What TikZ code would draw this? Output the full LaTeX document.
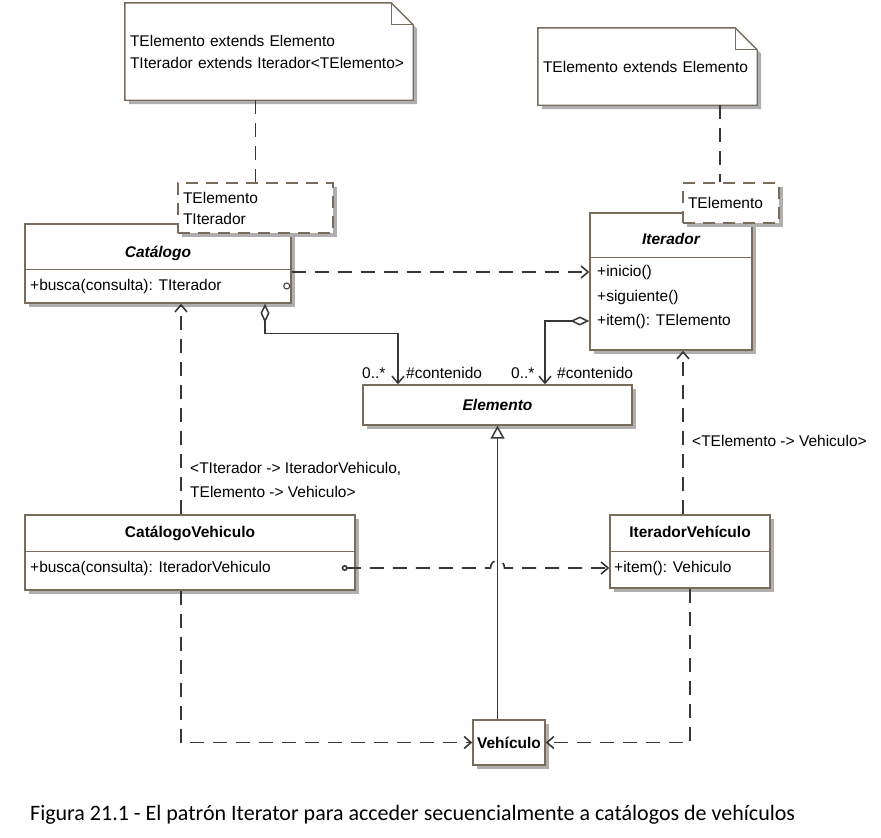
\documentclass[tikz,border=0pt]{standalone}
\usepackage{fontspec}
\setmainfont{Liberation Sans}
\newfontfamily\capfont{Carlito}
\usetikzlibrary{arrows.meta,shadows,backgrounds,calc}
\definecolor{boxline}{RGB}{120,108,92}
\definecolor{shadowgrey}{RGB}{175,175,175}
\definecolor{wire}{RGB}{55,55,55}
\newcommand{\umlsize}{\fontsize{15.5}{21}\selectfont}

\begin{document}
\begin{tikzpicture}[x=1pt,y=-1pt,
  cls/.style={draw=boxline,line width=1.4pt,fill=white,inner sep=0pt,
    drop shadow={shadow xshift=4pt,shadow yshift=-4pt,fill=shadowgrey,opacity=1}},
  tpl/.style={cls,dash pattern=on 12pt off 8pt,align=left,inner sep=5pt,font=\umlsize},
  note/.style={inner sep=5pt,align=left,font=\fontsize{15.5}{22}\selectfont},
  txt/.style={inner sep=0pt,text height=11pt,text depth=3pt,font=\umlsize},
  ttl/.style={txt,font=\umlsize\bfseries\itshape},
  ttlb/.style={txt,font=\umlsize\bfseries},
  sep/.style={draw=boxline,line width=1.4pt},
  dep/.style={draw=wire,line width=1.6pt,dash pattern=on 14pt off 9pt},
  deparrow/.style={dep,-{Straight Barb[length=7pt,width=12pt]}},
  aggr/.style={draw=wire,line width=1.5pt,{Diamond[open,length=19pt,width=9pt]}-{Straight Barb[length=7pt,width=12pt]}},
  gener/.style={draw=wire,line width=1.5pt,-{Triangle[open,length=13pt,width=14pt]}}]
\useasboundingbox (0,0) rectangle (881,838);

% notes
\node[note,minimum width=288pt,minimum height=97pt,text width=278pt] (note1) at (269,51.5)
  {TElemento extends Elemento\\TIterador extends Iterador<TElemento>};
\node[note,minimum width=219pt,minimum height=77pt,text width=209pt] (note2) at (647.5,66.5)
  {TElemento extends Elemento};

% Catalogo
\node[cls,minimum width=266pt,minimum height=79pt] (cat) at (158,263.5) {};
\draw[sep] ([yshift=-46pt]cat.north west) -- ([yshift=-46pt]cat.north east);
\node[ttl] (cattitle) at (158,253) {Catálogo};
\node[txt,anchor=west] (catop) at (30,286) {+busca(consulta): TIterador};
\node[tpl,minimum width=155pt,minimum height=50pt,text width=145pt] (cattpl) at (255.5,208) {TElemento\\TIterador};

% Iterador
\node[cls,minimum width=162pt,minimum height=137pt] (iter) at (671,281.5) {};
\draw[sep] ([yshift=-45pt]iter.north west) -- ([yshift=-45pt]iter.north east);
\node[ttl] (itertitle) at (671,240) {Iterador};
\node[txt,anchor=west] (iterop1) at (597,272) {+inicio()};
\node[txt,anchor=west] (iterop2) at (597,297) {+siguiente()};
\node[txt,anchor=west] (iterop3) at (597,321) {+item(): TElemento};
\node[tpl,minimum width=96pt,minimum height=40pt,text width=86pt] (itertpl) at (731,203) {TElemento};

% Elemento
\node[cls,minimum width=269pt,minimum height=40pt,font=\umlsize\bfseries\itshape] (elem) at (497.5,405) {Elemento};

% CatalogoVehiculo
\node[cls,minimum width=330pt,minimum height=75pt] (catv) at (190,552.5) {};
\draw[sep] ([yshift=-37pt]catv.north west) -- ([yshift=-37pt]catv.north east);
\node[ttlb] (catvtitle) at (190,533) {CatálogoVehiculo};
\node[txt,anchor=west] (catvop) at (30,568) {+busca(consulta): IteradorVehiculo};

% IteradorVehiculo
\node[cls,minimum width=160pt,minimum height=73pt] (iterv) at (690,551.5) {};
\draw[sep] ([yshift=-37pt]iterv.north west) -- ([yshift=-37pt]iterv.north east);
\node[ttlb] (itervtitle) at (690,533) {IteradorVehículo};
\node[txt,anchor=west] (itervop) at (614,568) {+item(): Vehiculo};

% Vehiculo
\node[cls,minimum width=72pt,minimum height=45pt,font=\umlsize\bfseries] (veh) at (509,742.5) {Vehículo};

% connectors
\draw[dep] (note1.south -| cattpl.north) -- (cattpl.north);
\draw[dep] ([xshift=72.5pt]note2.south) -- ([xshift=72.5pt]note2.south |- itertpl.north);
\draw[deparrow] (cat.east |- iterop1) -- (iter.west |- iterop1);
\draw[draw=wire,line width=1pt] ([xshift=-5pt]cat.east |- catop) circle (3pt);
\draw[aggr] ([xshift=107pt]cat.south) -- ++(0,30) -| ([xshift=-99.5pt]elem.north);
\draw[aggr] (iter.west |- iterop3) -| ([xshift=47.5pt]elem.north);
\node[txt,anchor=west] (mult1) at (362,374) {0..*};
\node[txt,anchor=west] (role1) at (406,374) {\#contenido};
\node[txt,anchor=west] (mult2) at (511,374) {0..*};
\node[txt,anchor=west] (role2) at (557,374) {\#contenido};
\draw[gener] (elem.south |- veh.north) -- (elem.south);
\draw[dep,{Circle[open,length=6pt]}-{Straight Barb[length=7pt,width=12pt]}]
  ([xshift=-14pt]catv.east |- catvop) -- ($(elem.south |- catvop)+(-7,0)$)
  .. controls +(0,-10) and +(0,-10) .. ($(elem.south |- catvop)+(7,0)$) -- (iterv.west |- catvop);
\draw[deparrow] ([xshift=-9pt]catv.north) -- ([xshift=-9pt]catv.north |- cat.south);
\draw[deparrow] ([xshift=-7pt]iterv.north) -- ([xshift=-7pt]iterv.north |- iter.south);
\node[txt,anchor=north west,align=left,text height=,text depth=,font=\fontsize{15.5}{24}\selectfont] (bindcat) at (190,462)
  {<TIterador -> IteradorVehiculo,\\TElemento -> Vehiculo>};
\node[txt,anchor=west] (binditer) at (692,442) {<TElemento -> Vehiculo>};
\draw[deparrow] ([xshift=-9pt]catv.south) |- (veh.west);
\draw[deparrow] (iterv.south) |- (veh.east);

% caption
\node[anchor=west,inner sep=0pt,font=\capfont\fontsize{22}{26}\selectfont] (caption) at (30,815)
  {Figura 21.1 - El patrón Iterator para acceder secuencialmente a catálogos de vehículos};

\begin{scope}[on background layer]
  \fill[white] (0,0) rectangle (881,838);
  \foreach \n in {note1,note2}{
    \fill[shadowgrey] ([shift={(4pt,-4pt)}]\n.south west) -- ([shift={(4pt,-4pt)}]\n.north west)
      -- ([shift={(-18pt,-4pt)}]\n.north east) -- ([shift={(4pt,-26pt)}]\n.north east)
      -- ([shift={(4pt,-4pt)}]\n.south east) -- cycle;
    \draw[draw=boxline,line width=1.4pt,fill=white] (\n.south west) -- (\n.north west)
      -- ([xshift=-22pt]\n.north east) -- ([yshift=-22pt]\n.north east) -- (\n.south east) -- cycle;
    \draw[draw=boxline,line width=1.1pt] ([xshift=-22pt]\n.north east)
      -- ([xshift=-22pt,yshift=-22pt]\n.north east) -- ([yshift=-22pt]\n.north east);
  }
\end{scope}
\end{tikzpicture}
\end{document}
